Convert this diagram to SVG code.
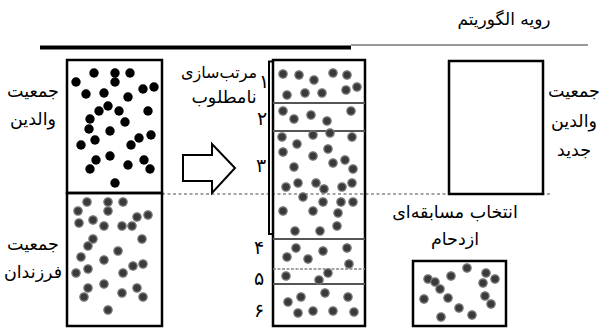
<svg xmlns="http://www.w3.org/2000/svg" width="606" height="329" viewBox="0 0 606 329">
<style>
.box{fill:none;stroke:#000;stroke-width:2.5}
.div{stroke:#555;stroke-width:2}
.t{font-family:"DejaVu Sans",sans-serif;font-size:17.5px;fill:#000;text-anchor:middle}
.n{font-family:"DejaVu Sans",sans-serif;font-size:19px;fill:#000;text-anchor:middle}
.b{fill:#000}
.g{fill:#3a3a3a;stroke:#7a7a7a;stroke-width:1.2}
</style>
<defs>
<circle id="bd" r="4.7" class="b"/>
<circle id="gd" r="4.2" class="g"/>
</defs>
<rect width="606" height="329" fill="#fff"/>
<g id="header">
<text class="t" x="504" y="25" style="font-size:17px">رویه الگوریتم</text>
<line x1="40" y1="47.5" x2="351" y2="47.5" stroke="#000" stroke-width="4"/>
<line x1="351" y1="45" x2="588" y2="45" stroke="#777" stroke-width="1.5"/>
<line x1="162" y1="194" x2="550" y2="194" stroke="#888" stroke-width="1.3" stroke-dasharray="3,2.5"/>
</g>
<g id="parents">
<rect class="box" x="67" y="60" width="95" height="133"/>
<text class="t" x="33" y="97">جمعیت</text>
<text class="t" x="33" y="125">والدین</text>
<g>
<use href="#bd" x="76" y="82"/><use href="#bd" x="94" y="73"/><use href="#bd" x="115" y="73"/><use href="#bd" x="115" y="82"/><use href="#bd" x="130" y="73"/><use href="#bd" x="143" y="89"/><use href="#bd" x="154" y="87"/><use href="#bd" x="86" y="94"/><use href="#bd" x="104" y="93"/><use href="#bd" x="128" y="97"/><use href="#bd" x="108" y="106"/><use href="#bd" x="99" y="111"/><use href="#bd" x="119" y="111"/><use href="#bd" x="148" y="111"/><use href="#bd" x="90" y="119"/><use href="#bd" x="125" y="122"/><use href="#bd" x="89" y="129"/><use href="#bd" x="110" y="131"/><use href="#bd" x="95" y="140"/><use href="#bd" x="81" y="145"/><use href="#bd" x="131" y="145"/><use href="#bd" x="139" y="138"/><use href="#bd" x="151" y="135"/><use href="#bd" x="96" y="160"/><use href="#bd" x="110" y="156"/><use href="#bd" x="144" y="160"/><use href="#bd" x="128" y="165"/><use href="#bd" x="90" y="169"/><use href="#bd" x="150" y="169"/><use href="#bd" x="115" y="183"/>
</g>
</g>
<g id="offspring">
<rect class="box" x="67" y="193" width="95" height="133"/>
<text class="t" x="33" y="250">جمعیت</text>
<text class="t" x="33" y="278">فرزندان</text>
<g>
<use href="#gd" x="87" y="202"/><use href="#gd" x="108" y="202"/><use href="#gd" x="123" y="202"/><use href="#gd" x="78" y="211"/><use href="#gd" x="108" y="211"/><use href="#gd" x="137" y="217"/><use href="#gd" x="148" y="215"/><use href="#gd" x="79" y="223"/><use href="#gd" x="93" y="220"/><use href="#gd" x="104" y="226"/><use href="#gd" x="122" y="226"/><use href="#gd" x="132" y="226"/><use href="#gd" x="142" y="239"/><use href="#gd" x="93" y="239"/><use href="#gd" x="88" y="246"/><use href="#gd" x="118" y="251"/><use href="#gd" x="81" y="257"/><use href="#gd" x="104" y="260"/><use href="#gd" x="76" y="273"/><use href="#gd" x="88" y="269"/><use href="#gd" x="123" y="273"/><use href="#gd" x="133" y="266"/><use href="#gd" x="143" y="264"/><use href="#gd" x="88" y="288"/><use href="#gd" x="104" y="284"/><use href="#gd" x="84" y="297"/><use href="#gd" x="122" y="293"/><use href="#gd" x="137" y="288"/><use href="#gd" x="143" y="297"/><use href="#gd" x="108" y="310"/>
</g>
</g>
<g id="sorting-arrow">
<path d="M183,155 H212 V144 L235,168 L212,193 V181 H183 Z" fill="#fff" stroke="#000" stroke-width="2"/>
<text class="t" x="219" y="78" style="font-size:16px">مرتب‌سازی</text>
<text class="t" x="224" y="103">نامطلوب</text>
</g>
<g id="sorted">
<rect class="box" x="273" y="60" width="92" height="266"/>
<path d="M273,61.5 H269 V234 H273" fill="none" stroke="#000" stroke-width="2"/>
<line class="div" x1="273" y1="103" x2="365" y2="103"/>
<line class="div" x1="273" y1="131" x2="365" y2="131"/>
<line class="div" x1="273" y1="239" x2="365" y2="239"/>
<line x1="273" y1="269" x2="365" y2="269" stroke="#888" stroke-width="1.5" stroke-dasharray="3,1.5"/>
<line class="div" x1="273" y1="284" x2="365" y2="284"/>
<text class="n" x="264" y="88">۱</text>
<text class="n" x="262" y="125">۲</text>
<text class="n" x="261" y="172">۳</text>
<text class="n" x="259" y="254">۴</text>
<text class="n" x="259" y="285">۵</text>
<text class="n" x="259" y="317">۶</text>
<g>
<use href="#gd" x="283" y="74"/><use href="#gd" x="299" y="75"/><use href="#gd" x="314" y="80"/><use href="#gd" x="333" y="73"/><use href="#gd" x="347" y="75"/><use href="#gd" x="287" y="95"/><use href="#gd" x="305" y="93"/><use href="#gd" x="322" y="93"/><use href="#gd" x="346" y="90"/><use href="#gd" x="357" y="87"/>
<use href="#gd" x="283" y="111"/><use href="#gd" x="294" y="119"/><use href="#gd" x="311" y="115"/><use href="#gd" x="327" y="121"/><use href="#gd" x="351" y="111"/>
<use href="#gd" x="282" y="137"/><use href="#gd" x="297" y="144"/><use href="#gd" x="313" y="135"/><use href="#gd" x="330" y="133"/><use href="#gd" x="352" y="137"/><use href="#gd" x="283" y="152"/><use href="#gd" x="313" y="156"/><use href="#gd" x="328" y="149"/><use href="#gd" x="294" y="167"/><use href="#gd" x="333" y="163"/><use href="#gd" x="345" y="160"/><use href="#gd" x="353" y="169"/><use href="#gd" x="286" y="187"/><use href="#gd" x="298" y="183"/><use href="#gd" x="316" y="183"/><use href="#gd" x="324" y="189"/><use href="#gd" x="342" y="187"/><use href="#gd" x="352" y="183"/><use href="#gd" x="303" y="197"/><use href="#gd" x="323" y="202"/><use href="#gd" x="341" y="202"/><use href="#gd" x="353" y="202"/><use href="#gd" x="283" y="211"/><use href="#gd" x="313" y="211"/><use href="#gd" x="338" y="213"/><use href="#gd" x="295" y="231"/><use href="#gd" x="320" y="231"/><use href="#gd" x="337" y="226"/>
<use href="#gd" x="296" y="248"/><use href="#gd" x="287" y="257"/><use href="#gd" x="308" y="259"/><use href="#gd" x="323" y="251"/><use href="#gd" x="347" y="248"/><use href="#gd" x="349" y="264"/>
<use href="#gd" x="286" y="276"/><use href="#gd" x="319" y="280"/><use href="#gd" x="328" y="273"/>
<use href="#gd" x="301" y="297"/><use href="#gd" x="288" y="302"/><use href="#gd" x="325" y="293"/><use href="#gd" x="348" y="297"/><use href="#gd" x="298" y="313"/><use href="#gd" x="313" y="311"/><use href="#gd" x="333" y="311"/><use href="#gd" x="354" y="312"/>
</g>
</g>
<g id="new-parents">
<rect class="box" x="449" y="61" width="94" height="133"/>
<text class="t" x="574" y="97">جمعیت</text>
<text class="t" x="574" y="127">والدین</text>
<text class="t" x="574" y="156">جدید</text>
</g>
<g id="tournament">
<text class="t" x="455" y="218">انتخاب مسابقه‌ای</text>
<text class="t" x="455" y="245">ازدحام</text>
<rect class="box" x="413" y="261" width="93" height="65"/>
<g>
<use href="#gd" x="467" y="268"/><use href="#gd" x="486" y="273"/><use href="#gd" x="495" y="279"/><use href="#gd" x="428" y="279"/><use href="#gd" x="435" y="282"/><use href="#gd" x="440" y="289"/><use href="#gd" x="451" y="276"/><use href="#gd" x="483" y="283"/><use href="#gd" x="424" y="299"/><use href="#gd" x="448" y="298"/><use href="#gd" x="485" y="296"/><use href="#gd" x="491" y="304"/><use href="#gd" x="459" y="308"/><use href="#gd" x="472" y="315"/><use href="#gd" x="441" y="317"/>
</g>
</g>
<g id="connectors"></g>
</svg>
